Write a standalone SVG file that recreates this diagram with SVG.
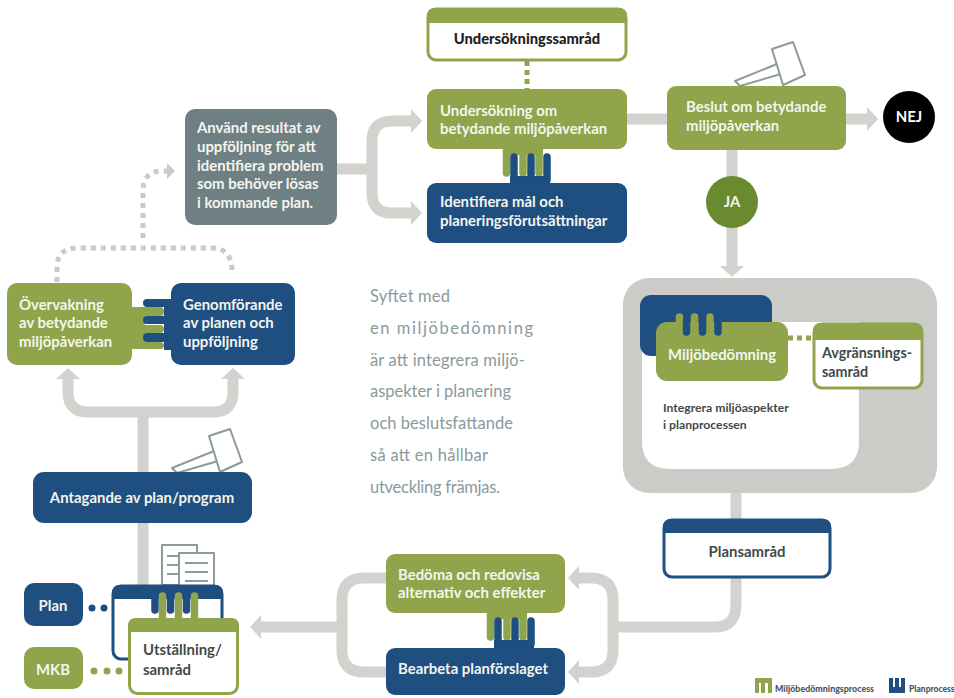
<svg xmlns="http://www.w3.org/2000/svg" xmlns:xlink="http://www.w3.org/1999/xlink" width="954" height="698" viewBox="0 0 954 698">
<style>
text{font-family:Lato,"Open Sans","Liberation Sans",sans-serif;font-weight:700;font-size:14.900px}
.w{fill:#f4f5ee}
.d{fill:#3f4a4a;font-weight:700}
.c{text-anchor:middle}
.g{fill:#8fa44b}
.b{fill:#1f4f80}
.con{fill:none;stroke:#d2d3cf;stroke-width:11}
.dot{fill:none;stroke:#c9cbc7;stroke-width:5;stroke-dasharray:5 5}
.gv{fill:#fff;stroke:#8c9a9c;stroke-width:2;stroke-linejoin:round}
.ln{stroke:#8c9a9c;stroke-width:2}
.gf{stroke:#8fa44b;stroke-width:7.500;stroke-linecap:round;fill:none}
.bf{stroke:#1f4f80;stroke-width:7.500;stroke-linecap:round;fill:none}
.mid{fill:#8a9a9b;font-size:16.500px;font-weight:400}
.leg{font-size:8.500px;fill:#4a5560;font-weight:900}
</style>
<defs>
<marker id="ah" markerUnits="userSpaceOnUse" markerWidth="14" markerHeight="28" refX="0" refY="14" orient="auto"><path d="M0 2L11 14L0 26Z" fill="#d2d3cf"/></marker>
<marker id="ad" markerUnits="userSpaceOnUse" markerWidth="10" markerHeight="18" refX="0" refY="9" orient="auto"><path d="M0 1L8 9L0 17Z" fill="#c9cbc7"/></marker>
<g id="comb">
<path class="g" d="M503 149H543V155H503Z"/>
<path class="gf" d="M506.500 150V173M523 150V173M539 150V173"/>
<path class="b" d="M510 176H550V184H510Z"/>
<path class="bf" d="M514 180V157M531 180V157M547 180V157"/>
</g>
<g id="gavel">
<path class="gv" d="M735 81L777 64L781 74L740 86Z"/>
<path class="gv" d="M772 49L793 42L805 75L783 85Z"/>
</g>
</defs>
<rect width="954" height="698" fill="#fff"/>
<g id="n-panel">
<rect x="623" y="278" width="314" height="215" rx="26" fill="#cbccc8"/>
<path d="M642 322H859V441Q859 469 831 469H670Q642 469 642 441Z" fill="#fff"/>
<rect class="b" x="640" y="295" width="132" height="61" rx="11"/>
<path class="gf" d="M679.500 330V317M694.500 330V317M710 330V317"/>
<rect class="g" x="656" y="322" width="132" height="59" rx="11"/>
<path class="bf" d="M686.500 320V332M702.500 320V332M718 320V332"/>
<text class="c w" x="722" y="360">Miljöbedömning</text>
<text class="d" x="663" y="412" style="font-size:12.200px">Integrera miljöaspekter</text>
<text class="d" x="663" y="429" style="font-size:12.200px">i planprocessen</text>
</g>
<g id="connectors">
<path class="con" d="M337 169H372M372 169V141Q372 121 392 121H411" marker-end="url(#ah)"/>
<path class="con" d="M372 169V193Q372 213 392 213H411" marker-end="url(#ah)"/>
<path class="con" d="M627 119H667"/>
<path class="con" d="M846 119H867" marker-end="url(#ah)"/>
<path class="con" d="M732 150V266" marker-end="url(#ah)"/>
<path class="con" d="M736 493V519M736 578V605Q736 627 714 627H613"/>
<path class="con" d="M613 627V600Q613 578 591 578H579" marker-end="url(#ah)"/>
<path class="con" d="M613 627V650Q613 672 591 672H579" marker-end="url(#ah)"/>
<path class="con" d="M386 578H364Q342 578 342 600V650Q342 672 364 672H386M342 627H261" marker-end="url(#ah)"/>
<path class="con" d="M143 590V412"/>
<path class="con" d="M143 412H88Q68 412 68 392V379" marker-end="url(#ah)"/>
<path class="con" d="M143 412H213Q233 412 233 392V379" marker-end="url(#ah)"/>
<path class="dot" d="M57 282V268Q57 248 77 248H212Q232 248 232 272"/>
<path class="dot" d="M143 238V191Q143 171 163 171H167" marker-end="url(#ad)"/>
<path d="M527 61V89" fill="none" stroke="#8fa44b" stroke-width="5" stroke-dasharray="5 4"/>
<path d="M788 338H813" fill="none" stroke="#8fa44b" stroke-width="5" stroke-dasharray="5 4"/>
</g>
<g id="n-avgransning">
<rect x="814" y="324" width="108" height="64" rx="8" fill="#fff" stroke="#8fa44b" stroke-width="3"/>
<path class="g" d="M813 340V331Q813 323 821 323H915Q923 323 923 331V340Z"/>
<text class="d" x="822" y="358" style="font-size:14.300px">Avgränsnings-</text>
<text class="d" x="822" y="377" style="font-size:14.300px">samråd</text>
</g>
<g id="n-samrad1">
<rect x="428" y="9" width="198" height="51" rx="8" fill="#fff" stroke="#8fa44b" stroke-width="3"/>
<path class="g" d="M427 23V16Q427 8 435 8H619Q627 8 627 16V23Z"/>
<text class="c" x="527" y="44" fill="#222" style="font-size:14.700px;font-weight:900">Undersökningssamråd</text>
</g>
<g id="n-undersokning">
<rect class="g" x="427" y="89" width="200" height="60" rx="9"/>
<text class="w" x="440" y="116">Undersökning om</text>
<text class="w" x="440" y="134">betydande miljöpåverkan</text>
</g>
<g id="n-identifiera">
<rect class="b" x="427" y="183" width="200" height="60" rx="9"/>
<text class="w" x="440" y="207">Identifiera mål och</text>
<text class="w" x="440" y="226">planeringsförutsättningar</text>
</g>
<use xlink:href="#comb" href="#comb"/>
<g id="n-beslut">
<use xlink:href="#gavel" href="#gavel"/>
<rect class="g" x="667" y="86" width="179" height="64" rx="9"/>
<text class="w" x="686" y="112">Beslut om betydande</text>
<text class="w" x="686" y="131">miljöpåverkan</text>
</g>
<g id="n-nej">
<circle cx="909" cy="117" r="26" fill="#000"/>
<text class="c" x="909" y="122" fill="#fff">NEJ</text>
</g>
<g id="n-ja">
<circle cx="732" cy="202" r="26" fill="#6a8a2f"/>
<text class="c w" x="732" y="207">JA</text>
</g>
<g id="n-plansamrad">
<rect x="664" y="520" width="166" height="57" rx="8" fill="#fff" stroke="#1f4f80" stroke-width="3"/>
<path class="b" d="M663 533V527Q663 519 671 519H823Q831 519 831 527V533Z"/>
<text class="d c" x="747" y="557">Plansamråd</text>
</g>
<g id="n-bedoma">
<rect class="g" x="386" y="554" width="179" height="59" rx="9"/>
<text class="w" x="398" y="580">Bedöma och redovisa</text>
<text class="w" x="398" y="598">alternativ och effekter</text>
</g>
<g id="n-bearbeta">
<rect class="b" x="386" y="648" width="179" height="47" rx="9"/>
<text class="w" x="398" y="674">Bearbeta planförslaget</text>
</g>
<use xlink:href="#comb" href="#comb" transform="translate(-16 464)"/>
<g id="n-anvand">
<rect x="185" y="109" width="152" height="116" rx="10" fill="#6f8084"/>
<text class="w" x="197" y="133">Använd resultat av</text>
<text class="w" x="197" y="152">uppföljning för att</text>
<text class="w" x="197" y="171">identifiera problem</text>
<text class="w" x="197" y="189">som behöver lösas</text>
<text class="w" x="197" y="208">i kommande plan.</text>
</g>
<g id="n-overvakning">
<rect class="g" x="7" y="283" width="125" height="82" rx="10"/>
<path class="g" d="M130 307H160Q164 307 164 311.500Q164 316 160 316H145V325H160Q164 325 164 329Q164 333 160 333H145V342H160Q164 342 164 345.500Q164 349 160 349H130Z"/>
<text class="w" x="19" y="310">Övervakning</text>
<text class="w" x="19" y="328">av betydande</text>
<text class="w" x="19" y="347">miljöpåverkan</text>
</g>
<g id="n-genomforande">
<rect class="b" x="171" y="283" width="124" height="82" rx="10"/>
<path class="b" d="M173 299H147Q143 299 143 303Q143 307 147 307H164V316H147Q143 316 143 320Q143 324 147 324H164V333H147Q143 333 143 337.500Q143 342 147 342H164V350H173Z"/>
<text class="w" x="183" y="310">Genomförande</text>
<text class="w" x="183" y="328">av planen och</text>
<text class="w" x="183" y="347">uppföljning</text>
</g>
<g id="n-antagande">
<use xlink:href="#gavel" href="#gavel" transform="translate(-563 387)"/>
<rect class="b" x="33" y="472" width="219" height="51" rx="11"/>
<text class="w c" x="142" y="503">Antagande av plan/program</text>
</g>
<g id="n-doc">
<path class="gv" d="M162 585V545H197V585Z"/>
<path class="ln" d="M167 556H179M167 565H179M167 574H179"/>
<path class="gv" d="M179 587V553H214V587Z"/>
<path class="ln" d="M185 563H208M185 572H208M185 581H208"/>
</g>
<g id="n-plan">
<rect class="b" x="24" y="583" width="59" height="43" rx="10"/>
<text class="w c" x="53" y="611">Plan</text>
<circle class="b" cx="92" cy="608" r="3.500"/><circle class="b" cx="104" cy="608" r="3.500"/>
</g>
<g id="n-mkb">
<rect class="g" x="24" y="647" width="59" height="42" rx="10"/>
<text class="w c" x="53" y="675">MKB</text>
<circle class="g" cx="94" cy="671" r="3.500"/><circle class="g" cx="107" cy="671" r="3.500"/><circle class="g" cx="119" cy="671" r="3.500"/>
</g>
<g id="n-utstallning">
<rect x="113" y="586" width="109" height="73" rx="8" fill="#fff" stroke="#1f4f80" stroke-width="3"/>
<path class="b" d="M112 599V593Q112 585 120 585H215Q223 585 223 593V599Z"/>
<path class="bf" d="M155 598V610M170.500 598V610M186.500 598V610"/>
<path class="gf" d="M162.500 620V596M178.500 620V596M194.500 620V596"/>
<rect x="129.500" y="619.500" width="108" height="74" rx="8" fill="#fff" stroke="#8fa44b" stroke-width="3"/>
<path class="g" d="M128 632V626Q128 618 136 618H231Q239 618 239 626V632Z"/>
<text class="d" x="143" y="655">Utställning/</text>
<text class="d" x="143" y="675">samråd</text>
</g>
<g id="text-center">
<text class="mid" x="370" y="302" textLength="80">Syftet med</text>
<text class="mid" x="370" y="334" textLength="163">en miljöbedömning</text>
<text class="mid" x="370" y="366" textLength="155">är att integrera miljö-</text>
<text class="mid" x="370" y="397" textLength="141">aspekter i planering</text>
<text class="mid" x="370" y="429" textLength="143">och beslutsfattande</text>
<text class="mid" x="370" y="461" textLength="118">så att en hållbar</text>
<text class="mid" x="370" y="493" textLength="130">utveckling främjas.</text>
</g>
<g id="legend">
<path class="g" d="M755 678H772V693H768V683H765V693H761V683H759V693H755Z"/>
<text class="leg" x="775" y="692" textLength="99" lengthAdjust="spacingAndGlyphs">Miljöbedömningsprocess</text>
<path class="b" d="M889 678H893V687H895V678H899V687H901V678H905V693H889Z"/>
<text class="leg" x="909" y="692">Planprocess</text>
</g>
</svg>
